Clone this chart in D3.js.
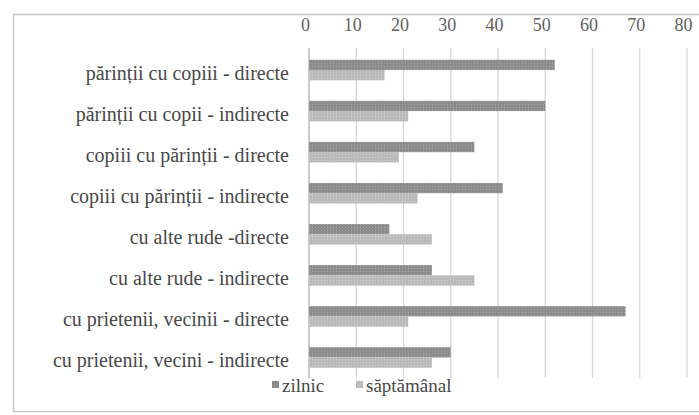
<!DOCTYPE html>
<html>
<head>
<meta charset="utf-8">
<script src="https://cdn.jsdelivr.net/npm/d3@7"></script>
<style>
  body { margin: 0; background: #fff; }
</style>
</head>
<body>
<div id="chart"></div>
<script>
// Data
const categories = [
    "părinții cu copiii - directe",
    "părinții cu copii - indirecte",
    "copiii cu părinții - directe",
    "copiii cu părinții - indirecte",
    "cu alte rude -directe",
    "cu alte rude - indirecte",
    "cu prietenii, vecinii - directe",
    "cu prietenii, vecini - indirecte"
];
const series = ["zilnic", "săptămânal"];
const zilnic = [52, 50, 35, 41, 17, 26, 67, 30];
const saptamanal = [16, 21, 19, 23, 26, 35, 21, 26];
const ticks = [0, 10, 20, 30, 40, 50, 60, 70, 80];

const width = 699;
const height = 415;
const serif = "Liberation Serif";

const svg = d3.select("#chart")
    .append("svg")
    .attr("width", width)
    .attr("height", height)
    .attr("font-family", serif);

// dotted patterns to mimic the scanned print
const defs = svg.append("defs");
const pat1 = defs.append("pattern").attr("id", "p-zilnic")
    .attr("width", 3).attr("height", 3).attr("patternUnits", "userSpaceOnUse");
pat1.append("rect").attr("width", 3).attr("height", 3).attr("fill", "#8c8c8c");
pat1.append("rect").attr("width", 1).attr("height", 1).attr("fill", "#aaaaaa");
const pat2 = defs.append("pattern").attr("id", "p-sapt")
    .attr("width", 3).attr("height", 3).attr("patternUnits", "userSpaceOnUse");
pat2.append("rect").attr("width", 3).attr("height", 3).attr("fill", "#bababa");
pat2.append("rect").attr("width", 1).attr("height", 1).attr("fill", "#d4d4d4");
const fills = ["url(#p-zilnic)", "url(#p-sapt)"];
const legendFills = ["#8a8a8a", "#bcbcbc"];

// frame
svg.append("rect")
    .attr("x", 13.5).attr("y", 14.5)
    .attr("width", 720).attr("height", 397)
    .attr("fill", "none")
    .attr("stroke", "#c8c8c8")
    .attr("stroke-width", 1.5);

// Scales
const x = d3.scaleLinear().domain([0, 80]).range([309, 687]);
const y = d3.scaleBand().domain(categories).range([49.5, 378]).paddingInner(0.5).paddingOuter(0.25);
const ySub = d3.scaleBand().domain(series).range([0, y.bandwidth()]);

// gridlines
svg.append("g")
    .selectAll("line")
    .data(ticks)
    .join("line")
    .attr("x1", d => x(d)).attr("x2", d => x(d))
    .attr("y1", 48).attr("y2", 378)
    .attr("stroke", d => d === 0 ? "#a8a8a8" : "#d4d4d4")
    .attr("stroke-width", 1.2);

// top axis (labels sit a little left of their gridlines in the print)
const axis = svg.append("g")
    .attr("transform", "translate(-4,31)")
    .call(d3.axisTop(x).tickValues(ticks).tickSize(0).tickPadding(0));
axis.attr("font-family", serif).attr("font-size", 18);
axis.select(".domain").remove();
axis.selectAll("text").attr("fill", "#606060");

// category labels
svg.append("g")
    .attr("font-family", serif)
    .attr("font-size", 20)
    .selectAll("text")
    .data(categories)
    .join("text")
    .attr("x", 289)
    .attr("y", d => y(d) + y.bandwidth() / 2 + 3)
    .attr("dy", "0.35em")
    .attr("text-anchor", "end")
    .attr("fill", "#484848")
    .text(d => d);

// bars
const rows = categories.map((c, i) => ({ cat: c, values: [zilnic[i], saptamanal[i]] }));
const group = svg.append("g")
    .selectAll("g")
    .data(rows)
    .join("g")
    .attr("transform", d => `translate(0,${y(d.cat)})`);

group.selectAll("rect")
    .data(d => d.values.map((v, j) => ({ key: series[j], v, j })))
    .join("rect")
    .attr("x", x(0))
    .attr("y", d => ySub(d.key))
    .attr("width", d => x(d.v) - x(0))
    .attr("height", ySub.bandwidth())
    .attr("fill", d => fills[d.j]);

// legend
const legendX = [272, 356];
const legend = svg.append("g")
    .attr("font-family", serif)
    .attr("font-size", 19)
    .selectAll("g")
    .data(series)
    .join("g")
    .attr("transform", (d, i) => `translate(${legendX[i]},385)`);
legend.append("rect")
    .attr("x", 0).attr("y", -4)
    .attr("width", 7).attr("height", 7)
    .attr("fill", (d, i) => legendFills[i]);
legend.append("text")
    .attr("x", 10).attr("y", 0)
    .attr("dy", "0.35em")
    .attr("fill", "#484848")
    .text(d => d);
</script>
</body>
</html>
